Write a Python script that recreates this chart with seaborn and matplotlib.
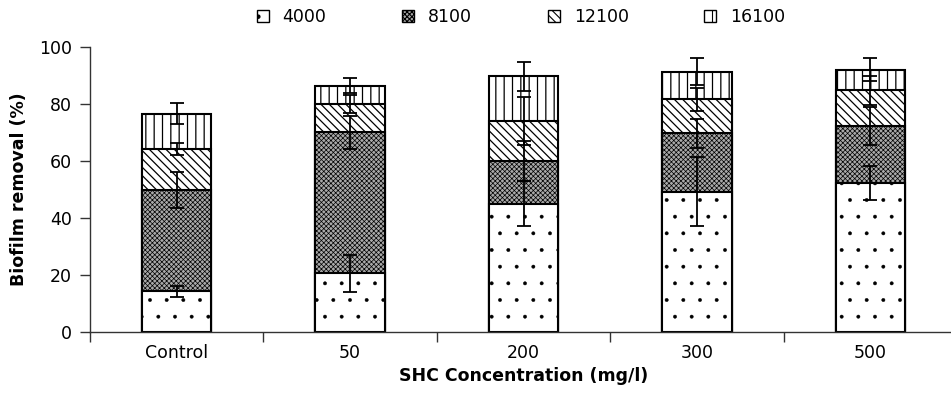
import numpy as np
import pandas as pd
import matplotlib
matplotlib.use("Agg")
import matplotlib.pyplot as plt
import seaborn as sns
from matplotlib.patches import Patch

categories = ["Control", "50", "200", "300", "500"]
series_names = ["4000", "8100", "12100", "16100"]

v4000 = [14.2, 20.5, 45.0, 49.2, 52.2]
e4000 = [2.0, 6.5, 7.8, 12.0, 6.0]
v8100 = [49.8, 70.0, 59.8, 69.7, 72.3]
e8100 = [6.4, 5.7, 7.0, 5.1, 6.7]
v12100 = [64.2, 80.0, 74.0, 81.6, 84.7]
e12100 = [2.0, 3.2, 8.5, 4.0, 5.0]
v16100 = [76.5, 86.3, 89.6, 91.3, 92.0]
e16100 = [3.7, 2.7, 5.1, 4.8, 4.0]

yticks = [0, 20, 40, 60, 80, 100]

sns.set_theme(style="white")
plt.rcParams["font.family"] = ["DejaVu Sans"]
plt.rcParams["hatch.color"] = "black"
plt.rcParams["text.color"] = "black"
plt.rcParams["axes.labelcolor"] = "black"

styles = {
    "4000": dict(facecolor="white", hatch=".", hlw=0.3),
    "8100": dict(facecolor="#a9a9a9", hatch="xxxxxxx", hlw=0.5),
    "12100": dict(facecolor="white", hatch="\\\\\\\\", hlw=0.9),
    "16100": dict(facecolor="white", hatch="||", hlw=0.9),
}
values = {"4000": v4000, "8100": v8100, "12100": v12100, "16100": v16100}
errors = {"4000": e4000, "8100": e8100, "12100": e12100, "16100": e16100}

fig = plt.figure(figsize=(9.51, 3.99), dpi=100)
ax = fig.add_axes([90 / 951, 0.168, 867 / 951, 0.715])

# overlapping bars: tallest drawn first
for name in ["16100", "12100", "8100", "4000"]:
    df = pd.DataFrame({"cat": categories, "val": values[name]})
    n_before = len(ax.patches)
    plt.rcParams["hatch.linewidth"] = styles[name]["hlw"]
    sns.barplot(data=df, x="cat", y="val", order=categories, ax=ax,
                width=0.4, color=styles[name]["facecolor"],
                hatch=styles[name]["hatch"], edgecolor="black",
                linewidth=1.5, saturation=1, errorbar=None)
    for p in ax.patches[n_before:]:
        if hasattr(p, "set_hatch_linewidth"):
            p.set_hatch_linewidth(styles[name]["hlw"])

xpos = np.arange(len(categories))
for name in series_names:
    ax.errorbar(xpos, values[name], yerr=errors[name], fmt="none",
                ecolor="black", elinewidth=1.3, capsize=4.8, capthick=1.3,
                zorder=10)

ax.set_xlim(-0.5, 4.5)
ax.set_ylim(0, 100)
ax.set_yticks(yticks)
ax.set_xticks(xpos)
ax.set_xticklabels(categories)
ax.set_xticks(np.arange(-0.5, 4.6, 1.0), minor=True)
ax.tick_params(axis="x", which="major", length=0, pad=9, labelsize=12.5, labelcolor="black")
ax.tick_params(axis="x", which="minor", length=7, width=1, direction="out", bottom=True, color="#333333")
ax.tick_params(axis="y", which="major", length=7, width=1, direction="out", left=True, pad=6,
               labelsize=12.5, color="#333333", labelcolor="black")

for s in ["top", "right"]:
    ax.spines[s].set_visible(False)
for s in ["left", "bottom"]:
    ax.spines[s].set_color("#333333")
    ax.spines[s].set_linewidth(1.0)

ax.set_xlabel("SHC Concentration (mg/l)", fontsize=12.5, fontweight="bold", labelpad=3)
ax.set_ylabel("Biofilm removal (%)", fontsize=12.5, fontweight="bold", labelpad=8)

handles = []
for n in series_names:
    plt.rcParams["hatch.linewidth"] = styles[n]["hlw"]
    h = Patch(facecolor=styles[n]["facecolor"], hatch=styles[n]["hatch"],
              edgecolor="black", linewidth=1.0, label=n)
    handles.append(h)
plt.rcParams["hatch.linewidth"] = 0.8
fig.legend(handles=handles, loc="center", bbox_to_anchor=(521 / 951, 1 - 17 / 399),
           ncol=4, frameon=False, fontsize=12.5, handlelength=0.7,
           handleheight=0.7, handletextpad=0.8, columnspacing=4.35,
           borderpad=0.2)

fig.savefig("out.png", dpi=100)
